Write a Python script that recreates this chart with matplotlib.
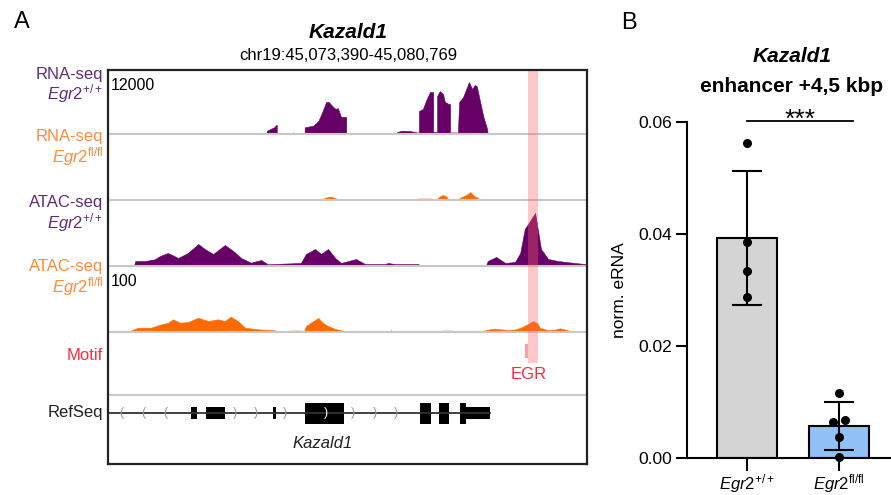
import numpy as np
import matplotlib.pyplot as plt

plt.rcParams['font.family'] = ['Liberation Sans', 'DejaVu Sans']
plt.rcParams['mathtext.fontset'] = 'custom'
plt.rcParams['mathtext.rm'] = 'Liberation Sans'
plt.rcParams['mathtext.it'] = 'Liberation Sans:italic'
plt.rcParams['mathtext.bf'] = 'Liberation Sans:bold'

# ---- panel A: browser window ----
gene_name = 'Kazald1'
region_chrom = 'chr19'
region_start = 45073390
region_end = 45080769

# coverage profiles, positions are bp offsets from region_start
rna_wt_pos = [2430, 2450, 2500, 2560, 2590, 2600, 2600,
              2830, 2850, 2870,
              3030, 3030, 3160, 3240, 3300, 3360, 3400, 3470, 3510, 3540, 3590, 3650, 3670, 3670,
              3910, 3930, 3950,
              4450, 4450, 4530, 4650, 4760, 4790, 4790, 4850, 4910, 4960, 4990, 5010, 5010,
              5070, 5070, 5110, 5160, 5190, 5250, 5270, 5270, 5390, 5410, 5470, 5530, 5560,
              5610, 5650, 5680, 5730, 5780, 5840, 5850]
rna_wt_cov = [0, 630, 950, 1280, 1710, 1710, 0,
              0, 320, 0,
              0, 1280, 1580, 2480, 4190, 6100, 6100, 5140, 4760, 4950, 3240, 3240, 3240, 0,
              0, 190, 0,
              0, 380, 630, 570, 290, 290, 4380, 4760, 6670, 8000, 8000, 8000, 380,
              380, 7240, 8190, 7620, 6100, 5720, 5720, 290, 290, 6100, 7050, 8950, 9910,
              8570, 9330, 9140, 6290, 3430, 950, 0]

rna_fl_pos = [3270, 3340, 3420, 3500, 3540,
              4740, 4780, 4980, 4990,
              5050, 5110, 5160, 5210, 5250,
              5380, 5420, 5520, 5580, 5640, 5700, 5720]
rna_fl_cov = [0, 380, 660, 380, 0,
              0, 280, 280, 0,
              0, 660, 940, 660, 0,
              0, 380, 940, 1500, 750, 380, 0]

atac_wt_pos = [400, 420, 570, 720, 800, 920, 990, 1080, 1230, 1390, 1490, 1620, 1800, 1930,
               2050, 2200, 2360, 2460, 2670, 2970, 3050, 3190, 3280, 3390, 3500, 3590, 3820,
               3960, 4270, 4310, 4420, 4780, 4810,
               5820, 5850, 5980, 6120, 6270, 6350, 6420, 6500, 6580, 6620, 6670, 6780, 6930,
               7190, 7350, 7360]
atac_wt_cov = [0, 7.8, 7.8, 10.5, 15.6, 20.3, 17.2, 12.5, 20.3, 34.4, 26.6, 18.8, 32.8, 23.4,
               12.5, 5.2, 9.4, 2.7, 3.6, 4.7, 18.8, 26.6, 18.8, 26.6, 12.5, 4.7, 10.9,
               3.1, 3.1, 4.7, 3.1, 3.1, 0,
               0, 7.8, 14.1, 4.7, 6.3, 20.3, 57.8, 70.3, 82.8, 57.8, 26.6, 10.9, 7.8,
               4.7, 3.1, 0]

atac_fl_pos = [320, 340, 460, 660, 820, 920, 1000, 1110, 1230, 1390, 1540, 1690, 1800, 1890,
               2000, 2110, 2310, 2570, 2590,
               2800, 2820, 2970, 2990, 3020, 3050, 3140, 3240, 3310, 3390, 3500, 3590, 3670,
               3790, 3820, 3850,
               4330, 4360, 4390,
               5150, 5160, 5310, 5330,
               5610, 5640, 5670,
               5790, 5810, 5960, 6160, 6270, 6360, 6470, 6550, 6610, 6650, 6780, 6890, 6960,
               7040, 7120, 7130]
atac_fl_cov = [0, 1.6, 6.7, 6.7, 12.0, 14.1, 19.8, 14.5, 15.6, 22.3, 17.2, 19.8, 17.2, 23.9,
               17.2, 6.7, 4.2, 2.7, 0,
               0, 2.3, 2.3, 0, 1.6, 9.4, 15.6, 22.0, 14.1, 9.4, 4.7, 2.7, 0,
               0, 2.3, 0,
               0, 3.1, 0,
               0, 2.3, 2.3, 0,
               0, 2.3, 0,
               0, 3.1, 5.2, 3.1, 3.9, 6.7, 12.5, 17.2, 14.1, 6.7, 2.7, 3.9, 5.8,
               3.9, 1.6, 0]

rna_max = 12000
atac_max = 100

# RefSeq model of Kazald1 (bp offsets)
gene_span = (0, 5880)
utr_exons = [(1280, 1370), (1510, 1800), (2540, 2590), (5510, 5880)]
cds_exons = [(3030, 3640), (4810, 4980), (5100, 5250), (5420, 5510)]
arrows_left = [200, 540, 880]
arrows_right = [1960, 2280, 2730, 3770, 4110, 4440]
arrows_in_exon = [3360]

egr_motif = (6420, 6470)
enhancer = (6470, 6620)

# ---- panel B: eRNA qPCR ----
genotypes = [r'$\mathit{Egr2}^{+/+}$', r'$\mathit{Egr2}^{\mathrm{fl/fl}}$']
wt_values = [0.0563, 0.0386, 0.0334, 0.0288]
fl_values = [0.0116, 0.0065, 0.0068, 0.0037, 0.0001]
fl_jitter = [0, -0.07, 0.07, 0, 0]
bar_colors = ['#d4d4d4', '#92c1f7']

W, H = 891, 495
fig = plt.figure(figsize=(W / 100, H / 100), dpi=100)


def px_axes(x0, y0, x1, y1, **kw):
    return fig.add_axes([x0 / W, 1 - y1 / H, (x1 - x0) / W, (y1 - y0) / H], **kw)


def px_text(x, y, s, **kw):
    return fig.text(x / W, 1 - y / H, s, **kw)


purple = '#660066'
orange = '#ff6a00'
purple_lab = '#5f2a7c'
orange_lab = '#ff8a3a'
red_lab = '#ff2a3a'
grid_gray = '#c8c8c8'
span = region_end - region_start

L, R = 108, 587


def track(y0, y1, pos, cov, color, ymax):
    ax = px_axes(L, y0, R, y1)
    ax.fill_between(pos, 0, cov, color=color, lw=0.4, edgecolor=color)
    ax.set_xlim(0, span)
    ax.set_ylim(0, ymax)
    for s in ['top', 'left', 'right']:
        ax.spines[s].set_visible(False)
    ax.spines['bottom'].set_color(grid_gray)
    ax.spines['bottom'].set_linewidth(1.5)
    ax.set_xticks([])
    ax.set_yticks([])
    ax.patch.set_alpha(0)
    return ax


track(71, 134, rna_wt_pos, rna_wt_cov, purple, rna_max)
track(136, 200, rna_fl_pos, rna_fl_cov, orange, rna_max)
track(202, 266, atac_wt_pos, atac_wt_cov, purple, atac_max)
track(268, 332, atac_fl_pos, atac_fl_cov, orange, atac_max)

# motif track
ax_m = track(334, 395, [0, span], [0, 0], 'white', 1)
ax_m.broken_barh([(egr_motif[0], egr_motif[1] - egr_motif[0])], (0.6, 0.23),
                 color='#ff9aa6', lw=0)
ax_m.text(sum(enhancer) / 2 - 60, 0.34, 'EGR', color=red_lab, fontsize=12,
          ha='center', va='center')

# RefSeq track
ax_g = px_axes(L, 397, R, 464)
ax_g.set_xlim(0, span)
ax_g.set_ylim(-51, 16)
ax_g.axis('off')
ax_g.plot(gene_span, [0, 0], color='#333333', lw=1.3)
for a, b in utr_exons:
    ax_g.broken_barh([(a, b - a)], (-6, 12), color='black', lw=0)
for a, b in cds_exons:
    ax_g.broken_barh([(a, b - a)], (-10.5, 21), color='black', lw=0)
for x in arrows_left:
    ax_g.text(x, 0, '(', color='#999999', fontsize=9, ha='center', va='center')
for x in arrows_right:
    ax_g.text(x, 0, ')', color='#999999', fontsize=9, ha='center', va='center')
for x in arrows_in_exon:
    ax_g.text(x, 0, ')', color='white', fontsize=9, ha='center', va='center')
ax_g.text(3310, -31, gene_name, fontsize=12, style='italic', ha='center', va='center',
          color='#222222')

# enhancer highlight across tracks
ax_h = px_axes(L, 70, R, 363)
ax_h.set_xlim(0, span)
ax_h.axis('off')
ax_h.axvspan(enhancer[0], enhancer[1], color='#ff6464', alpha=0.35, lw=0)

# frame
ax_f = px_axes(L, 70, R, 464)
ax_f.patch.set_alpha(0)
ax_f.set_xticks([])
ax_f.set_yticks([])
for s in ax_f.spines.values():
    s.set_linewidth(1.6)
    s.set_color('#222222')

px_text(111, 86, f'{rna_max}', fontsize=11.5, va='center', ha='left')
px_text(111, 281, f'{atac_max}', fontsize=11.5, va='center', ha='left')

labels = [
    (74, 'RNA-seq', purple_lab), (94, r'$\mathit{Egr2}^{+/+}$', purple_lab),
    (136, 'RNA-seq', orange_lab), (157, r'$\mathit{Egr2}^{\mathrm{fl/fl}}$', orange_lab),
    (202, 'ATAC-seq', purple_lab), (223, r'$\mathit{Egr2}^{+/+}$', purple_lab),
    (267, 'ATAC-seq', orange_lab), (287, r'$\mathit{Egr2}^{\mathrm{fl/fl}}$', orange_lab),
    (355, 'Motif', red_lab), (413, 'RefSeq', '#222222'),
]
for y, s, c in labels:
    px_text(103, y, s, color=c, fontsize=12, ha='right', va='center')

px_text(348, 33, gene_name, fontsize=15, weight='bold', style='italic',
        ha='center', va='center')
px_text(348, 55, f'{region_chrom}:{region_start:,}-{region_end:,}', fontsize=12,
        ha='center', va='center')

px_text(22, 22, 'A', fontsize=17, ha='center', va='center')
px_text(629, 23, 'B', fontsize=17, ha='center', va='center')

# ---- panel B ----
ax = px_axes(687, 122, 899, 458)
groups = [wt_values, fl_values]
means = [np.mean(v) for v in groups]
sds = [np.std(v, ddof=1) for v in groups]
xs = np.arange(len(groups))
ax.bar(xs, means, width=0.65, color=bar_colors, edgecolor='black', linewidth=1.5, zorder=2)
ax.errorbar(xs, means, yerr=sds, fmt='none', ecolor='black', elinewidth=1.5,
            capsize=11, capthick=1.5, zorder=3)
ax.scatter(np.zeros(len(wt_values)), wt_values, s=30, color='black', zorder=4,
           clip_on=False)
ax.scatter(np.ones(len(fl_values)) + np.array(fl_jitter), fl_values, s=30, color='black',
           zorder=4, clip_on=False)
ax.set_xlim(-0.652, 1.652)
ax.set_ylim(0, 0.06)
ax.set_yticks([0, 0.02, 0.04, 0.06])
ax.set_yticklabels(['0.00', '0.02', '0.04', '0.06'])
ax.set_xticks(xs)
ax.set_xticklabels(genotypes)
ax.tick_params(axis='y', length=8, width=1.5, labelsize=12.5, pad=3)
ax.tick_params(axis='x', length=9, width=1.5, labelsize=12, pad=1)
ax.spines['top'].set_visible(False)
ax.spines['right'].set_visible(False)
ax.spines['left'].set_linewidth(1.5)
ax.spines['bottom'].set_linewidth(1.5)
ax.set_ylabel('norm. eRNA', fontsize=12.5, labelpad=8)
ax.plot([0, 1.15], [0.0602, 0.0602], color='black', lw=1.3, clip_on=False)
ax.text(0.576, 0.0592, '***', fontsize=19, ha='center', va='baseline')

px_text(792, 57, gene_name, fontsize=15, weight='bold', style='italic',
        ha='center', va='center')
px_text(792, 86, 'enhancer +4,5 kbp', fontsize=15, weight='bold', ha='center', va='center')

fig.savefig('out.png', dpi=100)
